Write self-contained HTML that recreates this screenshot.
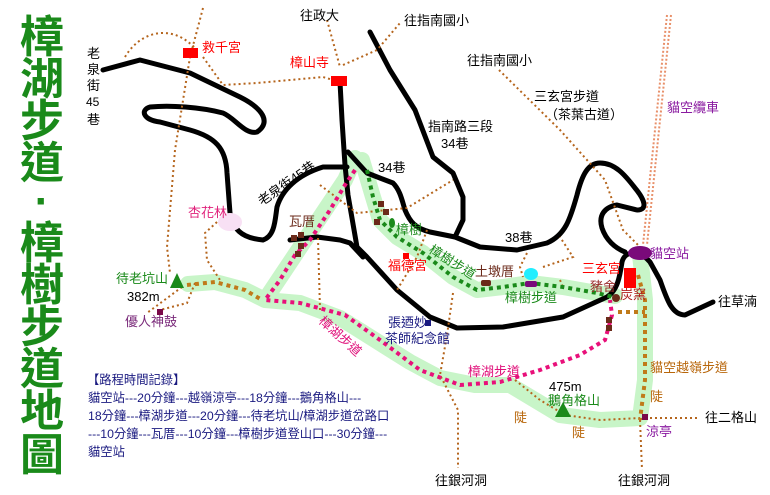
<!DOCTYPE html>
<html><head><meta charset="utf-8"><style>
html,body{margin:0;padding:0;background:#fff;}
svg{display:block;font-family:"Liberation Sans","Noto Sans CJK TC",sans-serif;}
</style></head><body>
<svg width="770" height="495" viewBox="0 0 770 495" xmlns="http://www.w3.org/2000/svg">
<rect width="770" height="495" fill="#fff"/>
<g fill="none" stroke="#c8f5c8" stroke-width="16" stroke-linecap="round" stroke-linejoin="round">
<path d="M355,158 L345,180 L325,210 L305,240 L285,270 L265,300"/>
<path d="M188,284 L215,282 L245,290 L265,300 L300,303 L340,318 L375,340 L410,362 L440,378 L475,385 L510,385 L535,400 L560,415 L600,420 L640,418 L645,380 L645,300 L640,255"/>
<path d="M362,160 L373,197 L380,220 L397,237 L423,253 L453,277 L477,290 L503,287 L530,283 L563,287 L597,293 L615,296"/>
</g>
<g fill="none" stroke="#000" stroke-width="5" stroke-linecap="round" stroke-linejoin="round">
<path d="M103,70 L140,60 L190,73 L240,97 C262,108 272,122 257,132 C245,135 235,118 223,113 C200,107 170,105 150,107 C140,110 143,120 160,122 L190,130 C215,137 226,148 227,173 L230,213 C233,228 240,238 263,240 C275,236 275,220 277,207 C282,190 297,175 323,167 L347,167"/>
<path d="M340,82 L342,120 L345,165 L348,195 L357,247 L367,257 L397,290 L430,317 L457,328 L503,327 L563,317 L607,297 C618,290 620,275 622,262 C625,250 640,250 650,262 L660,280 C667,300 672,315 685,315 L713,302"/>
<path d="M348,152 L367,173 L393,183 C400,190 402,200 405,210 C410,222 415,228 430,232 L455,237 L480,247 L517,250 L547,243 C565,235 570,220 577,195 C582,175 588,163 600,163 C615,163 625,175 635,188 C645,200 648,210 637,210 L617,205 C605,207 598,215 602,228 C606,240 615,248 625,252"/>
<path d="M370,32 L390,70 L415,110 L433,157 L453,173 L463,197 L463,220 L455,237"/>
<path d="M290,240 L317,237 L340,240 L350,243 L363,257"/>
</g>
<g stroke="#e8906a" stroke-width="2" stroke-dasharray="2 2" fill="none">
<line x1="667" y1="15" x2="643" y2="245"/><line x1="671" y1="15" x2="647" y2="245"/>
</g>
<g fill="none" stroke="#b5651d" stroke-width="2" stroke-dasharray="2 3">
<path d="M125,57 C135,40 150,33 163,33 C175,33 185,38 195,48"/>
<path d="M203,57 L223,85 L257,83 L323,77 L333,80"/>
<path d="M203,8 L190,57 L175,150 L167,247 L170,273"/>
<path d="M327,20 L340,67"/>
<path d="M343,65 L377,50 L400,23"/>
<path d="M499,70 L560,130 L605,180 L623,230 L640,247"/>
<path d="M320,185 L357,213 L407,208 L453,180"/>
<path d="M427,230 L417,257 L397,290"/>
<path d="M453,293 L447,335 L440,375 L458,410 L458,468"/>
<path d="M527,253 L520,267 L523,277 M543,267 L573,257 L560,237 M560,280 L563,287"/>
<path d="M318,238 L320,310"/>
<path d="M237,222 L217,222 L205,233 L207,260 L220,280"/>
<path d="M182,287 L147,313 M195,283 L187,303 L160,310"/>
<path d="M645,418 L700,418 M640,420 L642,470"/>
<path d="M515,380 L540,400 L565,415 L600,420 L640,418"/>
</g>
<g fill="none" stroke="#c07a1a" stroke-width="4" stroke-dasharray="4 4">
<path d="M638,275 L645,300 L645,340 L645,380 L640,420"/>
<path d="M618,312 L645,312"/>
<path d="M187,285 L215,282 L245,290 L262,300"/>
</g>
<path d="M355,170 L345,185 L330,210 L310,240 L295,255 L280,280 L265,300 L300,303 L345,315 L380,340 L420,370 L460,385 L500,382 L540,370 L580,355 L605,340 L612,315 L610,300" fill="none" stroke="#e8107a" stroke-width="4" stroke-dasharray="4 4"/>
<path d="M367,170 L373,197 L380,220 L397,237 L423,253 L453,277 L477,290 L503,287 L530,283 L563,287 L597,293 L613,297" fill="none" stroke="#1a8a1a" stroke-width="4" stroke-dasharray="4 4"/>
<rect x="183" y="48" width="15" height="10" fill="#f00"/>
<rect x="331" y="76" width="16" height="10" fill="#f00"/>
<rect x="624" y="268" width="12" height="20" fill="#f00"/>
<rect x="403" y="253" width="6" height="6" fill="#f00"/>
<ellipse cx="230" cy="222" rx="12" ry="9" fill="#f8e0f4"/>
<g fill="#6b2a1a">
<rect x="291" y="235" width="6" height="6"/><rect x="298" y="232" width="6" height="6"/><rect x="298" y="243" width="6" height="6"/><rect x="295" y="251" width="6" height="6"/>
<rect x="378" y="201" width="6" height="6"/><rect x="383" y="209" width="6" height="6"/><rect x="374" y="219" width="6" height="6"/>
<rect x="606" y="317" width="6" height="6"/><rect x="606" y="325" width="6" height="6"/>
<rect x="481" y="280" width="10" height="6" rx="2"/>
<circle cx="616" cy="298" r="4"/>
</g>
<ellipse cx="392" cy="223" rx="3" ry="5" fill="#1a8a1a"/>
<polygon points="177,273 170,288 184,288" fill="#1a8a1a"/>
<polygon points="563,402 555,417 571,417" fill="#1a8a1a"/>
<ellipse cx="640" cy="253" rx="12" ry="7" fill="#7a0a7a"/>
<ellipse cx="531" cy="274" rx="7" ry="6" fill="#2ef"/>
<rect x="525" y="281" width="12" height="6" rx="2" fill="#7a0a7a"/>
<rect x="425" y="320" width="6" height="6" fill="#1a1a80"/>
<rect x="642" y="414" width="6" height="6" fill="#7a0a4a"/>
<rect x="157" y="309" width="6" height="6" fill="#7a0a4a"/>
<g font-size="44" font-weight="bold" fill="#1a8a1a" text-anchor="middle">
<text x="42" y="52">樟</text><text x="42" y="94">湖</text><text x="42" y="136">步</text><text x="42" y="178">道</text><text x="42" y="216">·</text>
<text x="42" y="258">樟</text><text x="42" y="300">樹</text><text x="42" y="342">步</text><text x="42" y="384">道</text><text x="42" y="426">地</text><text x="42" y="470">圖</text>
</g>
<g font-size="13" fill="#000">
<text x="300" y="20">往政大</text>
<text x="404" y="25">往指南國小</text>
<text x="467" y="65">往指南國小</text>
<text x="534" y="101">三玄宮步道</text>
<text x="545" y="119">（茶葉古道）</text>
<text x="428" y="131">指南路三段</text>
<text x="441" y="148">34巷</text>
<text x="378" y="172">34巷</text>
<text x="505" y="242">38巷</text>
<text x="718" y="306">往草湳</text>
<text x="705" y="422">往二格山</text>
<text x="435" y="485">往銀河洞</text>
<text x="618" y="485">往銀河洞</text>
<text x="127" y="301">382m</text>
<text x="549" y="391">475m</text>
<text x="87" y="58">老</text><text x="87" y="74">泉</text><text x="87" y="90">街</text><text x="86" y="106" font-size="12">45</text><text x="87" y="124">巷</text>
<text transform="translate(262,206) rotate(-35)">老泉街45巷</text>
</g>
<g font-size="13">
<text x="202" y="52" fill="#f00">救千宮</text>
<text x="290" y="67" fill="#f00">樟山寺</text>
<text x="388" y="270" fill="#f00">福德宮</text>
<text x="582" y="273" fill="#f00">三玄宮</text>
<text x="620" y="299" fill="#b02020">炭窯</text>
<text x="590" y="291" fill="#9a2a2a">豬舍</text>
<text x="188" y="217" fill="#e0207a">杏花林</text>
<text x="289" y="226" fill="#6b2a1a">瓦厝</text>
<text x="475" y="276" fill="#6b2a1a">土墩厝</text>
<text x="116" y="283" fill="#1a8a1a">待老坑山</text>
<text x="125" y="326" fill="#7a2a7a">優人神鼓</text>
<text x="396" y="234" fill="#1a8a1a">樟樹</text>
<text x="650" y="258" fill="#8a1aa0">貓空站</text>
<text x="667" y="112" fill="#8a1aa0">貓空纜車</text>
<text x="388" y="327" fill="#1a1a80">張迺妙</text>
<text x="385" y="343" fill="#1a1a80">茶師紀念館</text>
<text transform="translate(428,252) rotate(32)" fill="#1a8a1a">樟樹步道</text>
<text x="505" y="302" fill="#1a8a1a">樟樹步道</text>
<text transform="translate(318,322) rotate(42)" fill="#e0107a">樟湖步道</text>
<text x="468" y="376" fill="#e0107a">樟湖步道</text>
<text x="650" y="372" fill="#b8660a">貓空越嶺步道</text>
<text x="548" y="405" fill="#1a8a1a">鵝角格山</text>
<text x="514" y="422" fill="#b8660a">陡</text>
<text x="572" y="437" fill="#b8660a">陡</text>
<text x="650" y="401" fill="#b8660a">陡</text>
<text x="646" y="436" fill="#8a1aa0">涼亭</text>
</g>
<g font-size="12.3" fill="#1a1a80">
<text x="87" y="384">【路程時間記錄】</text>
<text x="88" y="402">貓空站---20分鐘---越嶺涼亭---18分鐘---鵝角格山---</text>
<text x="88" y="420">18分鐘---樟湖步道---20分鐘---待老坑山/樟湖步道岔路口</text>
<text x="88" y="438">---10分鐘---瓦厝---10分鐘---樟樹步道登山口---30分鐘---</text>
<text x="88" y="456">貓空站</text>
</g>
</svg>
</body></html>
